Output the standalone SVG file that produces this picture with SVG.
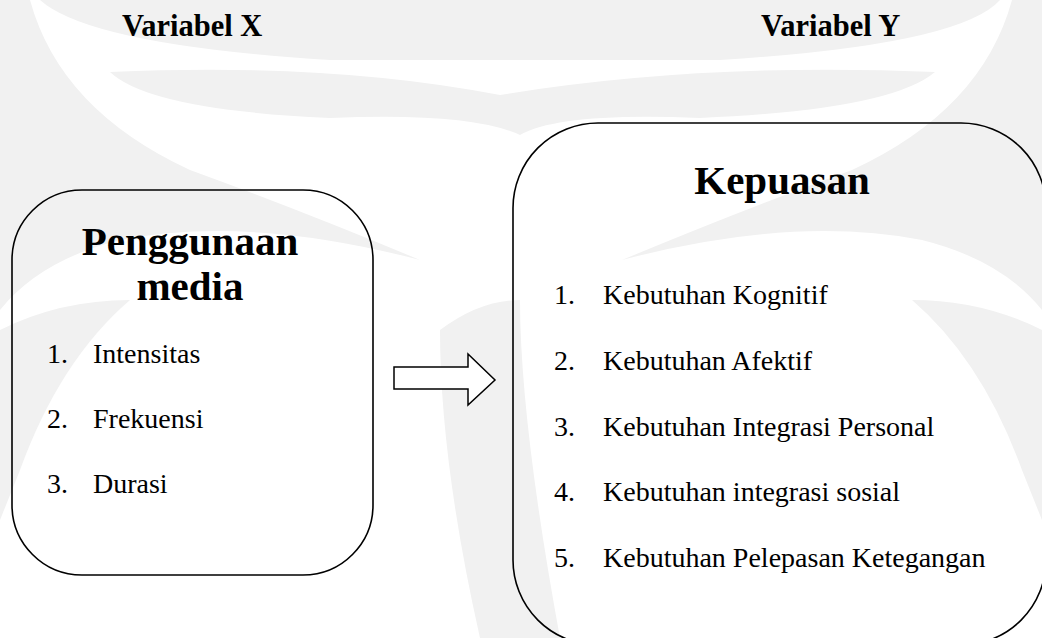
<svg xmlns="http://www.w3.org/2000/svg" width="1042" height="638" viewBox="0 0 1042 638">
<style>
.wm{fill:#f1f1f1;stroke:none}
.box{fill:none;stroke:#000;stroke-width:1.6}
.hdr{font-family:"Liberation Serif","Times New Roman",serif;font-weight:bold;font-size:30.5px;fill:#000}
.ttl{font-family:"Liberation Serif","Times New Roman",serif;font-weight:bold;font-size:41px;fill:#000;text-anchor:middle}
.itm{font-family:"Liberation Serif","Times New Roman",serif;font-size:28px;fill:#000}
.arr{fill:#fff;stroke:#000;stroke-width:1.5;stroke-linejoin:miter}
</style>
<rect width="1042" height="638" fill="#fff"/>
<g id="watermark">
<path class="wm" d="M40 0 L1000 0 Q960 45 720 60 L330 60 Q90 45 40 0 Z"/>
<path class="wm" d="M110 72 Q330 62 500 95 Q700 62 935 72 Q890 110 700 118 Q560 112 520 135 Q470 112 330 118 Q150 110 110 72 Z"/>
<path class="wm" d="M0 0 L30 0 Q60 110 190 170 Q300 210 420 260 Q250 215 120 240 Q40 260 0 310 Z"/>
<path class="wm" d="M1042 0 L1012 0 Q982 110 852 170 Q742 210 622 260 Q792 215 922 240 Q1002 260 1042 310 Z"/>
<path class="wm" d="M0 330 Q60 300 130 300 Q60 360 20 470 L0 520 Z"/>
<path class="wm" d="M1042 330 Q982 300 912 300 Q982 360 1022 470 L1042 520 Z"/>
<path class="wm" d="M440 330 Q480 300 520 300 Q520 420 560 638 L480 638 Q440 460 440 330 Z"/>
</g>
<g id="header-x"><text class="hdr" x="122" y="36">Variabel X</text></g>
<g id="header-y"><text class="hdr" x="761" y="36">Variabel Y</text></g>
<g id="node-penggunaan">
<rect class="box" x="12" y="190" width="361" height="385" rx="70" ry="70"/>
<text class="ttl" x="190" y="255">Penggunaan</text>
<text class="ttl" x="190" y="300">media</text>
<text class="itm" x="47" y="363">1.</text><text class="itm" x="93" y="363">Intensitas</text>
<text class="itm" x="47" y="428">2.</text><text class="itm" x="93" y="428">Frekuensi</text>
<text class="itm" x="47" y="493">3.</text><text class="itm" x="93" y="493">Durasi</text>
</g>
<g id="node-kepuasan">
<rect class="box" x="513" y="123" width="533" height="522" rx="85" ry="85"/>
<text class="ttl" x="782" y="194">Kepuasan</text>
<text class="itm" x="554" y="304">1.</text><text class="itm" x="603" y="304">Kebutuhan Kognitif</text>
<text class="itm" x="554" y="370">2.</text><text class="itm" x="603" y="370">Kebutuhan Afektif</text>
<text class="itm" x="554" y="436">3.</text><text class="itm" x="603" y="436">Kebutuhan Integrasi Personal</text>
<text class="itm" x="554" y="501">4.</text><text class="itm" x="603" y="501">Kebutuhan integrasi sosial</text>
<text class="itm" x="554" y="567">5.</text><text class="itm" x="603" y="567">Kebutuhan Pelepasan Ketegangan</text>
</g>
<g id="connectors">
<polygon class="arr" points="394,367 468,367 468,354 495,380 468,405 468,389 394,389"/>
</g>
</svg>
